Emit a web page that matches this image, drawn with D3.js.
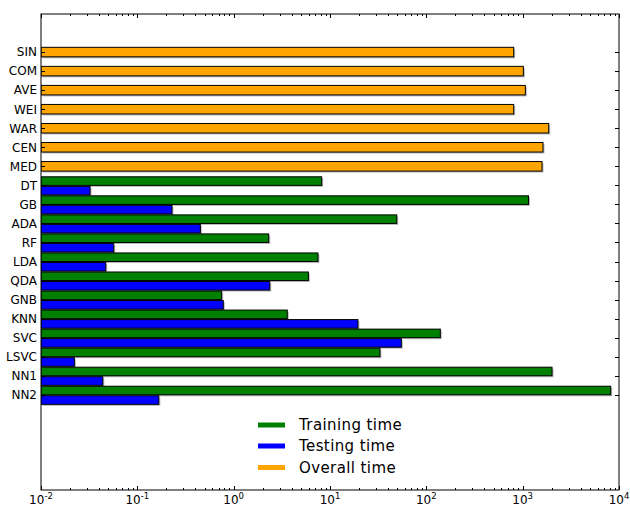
<!DOCTYPE html>
<html>
<head>
<meta charset="utf-8">
<script src="https://cdn.jsdelivr.net/npm/d3@7"></script>
<style>
  html, body { margin: 0; padding: 0; background: #fff; }
  text { font-family: "DejaVu Sans", sans-serif; }
</style>
</head>
<body>
<svg id="chart" width="630" height="507"></svg>
<script>
// Ensemble methods (overall time only) and individual classifiers (train/test)
const ensembleNames = ["SIN", "COM", "AVE", "WEI", "WAR", "CEN", "MED"];
const overallTime = [807, 1016, 1066, 807, 1864, 1626, 1588];

const modelNames = ["DT", "GB", "ADA", "RF", "LDA", "QDA", "GNB", "KNN", "SVC", "LSVC", "NN1", "NN2"];
const trainingTime = [8.2, 1150, 49.3, 2.31, 7.5, 5.96, 0.75, 3.6, 139.6, 33, 2017, 8200];
const testingTime = [0.0323, 0.229, 0.451, 0.0569, 0.047, 2.37, 0.78, 19.5, 55, 0.0222, 0.0438, 0.167];

const xTickExponents = [-2, -1, 0, 1, 2, 3, 4];
const legendLabels = ["Training time", "Testing time", "Overall time"];
const colors = { train: "#008000", test: "#0000ff", overall: "#ffa500" };

const svg = d3.select("#chart");
const m = { left: 41, right: 619, top: 14, bottom: 490 };

const categories = ensembleNames.concat(modelNames);

const x = d3.scaleLog().domain([1e-2, 1e4]).range([m.left, m.right]);
const y = d3.scaleLinear().domain([-2, 23]).range([m.top, m.bottom]);

const shadowOffset = 1.5;

function drawBar(g, v, y0, y1, fill) {
  const x0 = x(1e-2), x1 = x(v);
  g.append("rect")
    .attr("x", x0 + shadowOffset).attr("y", y(y0) + shadowOffset)
    .attr("width", x1 - x0).attr("height", y(y1) - y(y0))
    .attr("fill", "#808080").attr("opacity", 0.55);
  g.append("rect")
    .attr("x", x0).attr("y", y(y0))
    .attr("width", x1 - x0).attr("height", y(y1) - y(y0))
    .attr("fill", fill).attr("stroke", "#000").attr("stroke-width", 1);
}

svg.append("clipPath").attr("id", "plotClip")
  .append("rect").attr("x", m.left).attr("y", m.top)
  .attr("width", m.right - m.left).attr("height", m.bottom - m.top);

const bars = svg.append("g").attr("clip-path", "url(#plotClip)");

ensembleNames.forEach((name, i) => {
  drawBar(bars, overallTime[i], i - 0.25, i + 0.25, colors.overall);
});
modelNames.forEach((name, j) => {
  const i = ensembleNames.length + j;
  drawBar(bars, trainingTime[j], i - 0.45, i, colors.train);
  drawBar(bars, testingTime[j], i + 0.05, i + 0.5, colors.test);
});

// Frame
svg.append("rect")
  .attr("x", m.left).attr("y", m.top)
  .attr("width", m.right - m.left).attr("height", m.bottom - m.top)
  .attr("fill", "none").attr("stroke", "#000").attr("stroke-width", 1);

// Category ticks (inward on both sides) and labels
const yAxis = svg.append("g");
categories.forEach((c, i) => {
  const yy = Math.round(y(i)) + 0.5;
  yAxis.append("line").attr("x1", m.left).attr("x2", m.left + 4)
    .attr("y1", yy).attr("y2", yy).attr("stroke", "#000");
  yAxis.append("line").attr("x1", m.right - 4).attr("x2", m.right)
    .attr("y1", yy).attr("y2", yy).attr("stroke", "#000");
  yAxis.append("text")
    .attr("x", m.left - 4).attr("y", y(i))
    .attr("dy", "0.36em")
    .attr("text-anchor", "end")
    .attr("font-size", 12)
    .attr("fill", "#000")
    .text(c);
});

// Log x ticks, major and minor, inward on top and bottom
const xAxis = svg.append("g");
x.ticks().forEach(t => {
  const lg = Math.log10(t);
  const major = Math.abs(lg - Math.round(lg)) < 1e-9;
  const len = major ? 4 : 2;
  const xx = Math.round(x(t)) + 0.5;
  xAxis.append("line").attr("x1", xx).attr("x2", xx)
    .attr("y1", m.bottom).attr("y2", m.bottom - len).attr("stroke", "#000");
  xAxis.append("line").attr("x1", xx).attr("x2", xx)
    .attr("y1", m.top).attr("y2", m.top + len).attr("stroke", "#000");
});

xTickExponents.forEach(e => {
  const t = xAxis.append("text")
    .attr("x", x(Math.pow(10, e)))
    .attr("y", m.bottom + 14)
    .attr("text-anchor", "middle")
    .attr("font-size", 12)
    .attr("fill", "#000");
  t.append("tspan").text("10");
  t.append("tspan").attr("font-size", 8.5).attr("dy", -5).text(String(e));
});

// Legend
const legend = svg.append("g");
const legendColors = [colors.train, colors.test, colors.overall];
const legendY = [425, 446, 467.5];
legendLabels.forEach((label, i) => {
  legend.append("line")
    .attr("x1", 258).attr("x2", 285)
    .attr("y1", legendY[i]).attr("y2", legendY[i])
    .attr("stroke", legendColors[i]).attr("stroke-width", 5);
  legend.append("text")
    .attr("x", 299).attr("y", legendY[i])
    .attr("dy", "0.36em")
    .attr("font-size", 15)
    .attr("letter-spacing", 0.4)
    .attr("fill", "#000")
    .text(label);
});
</script>
</body>
</html>
